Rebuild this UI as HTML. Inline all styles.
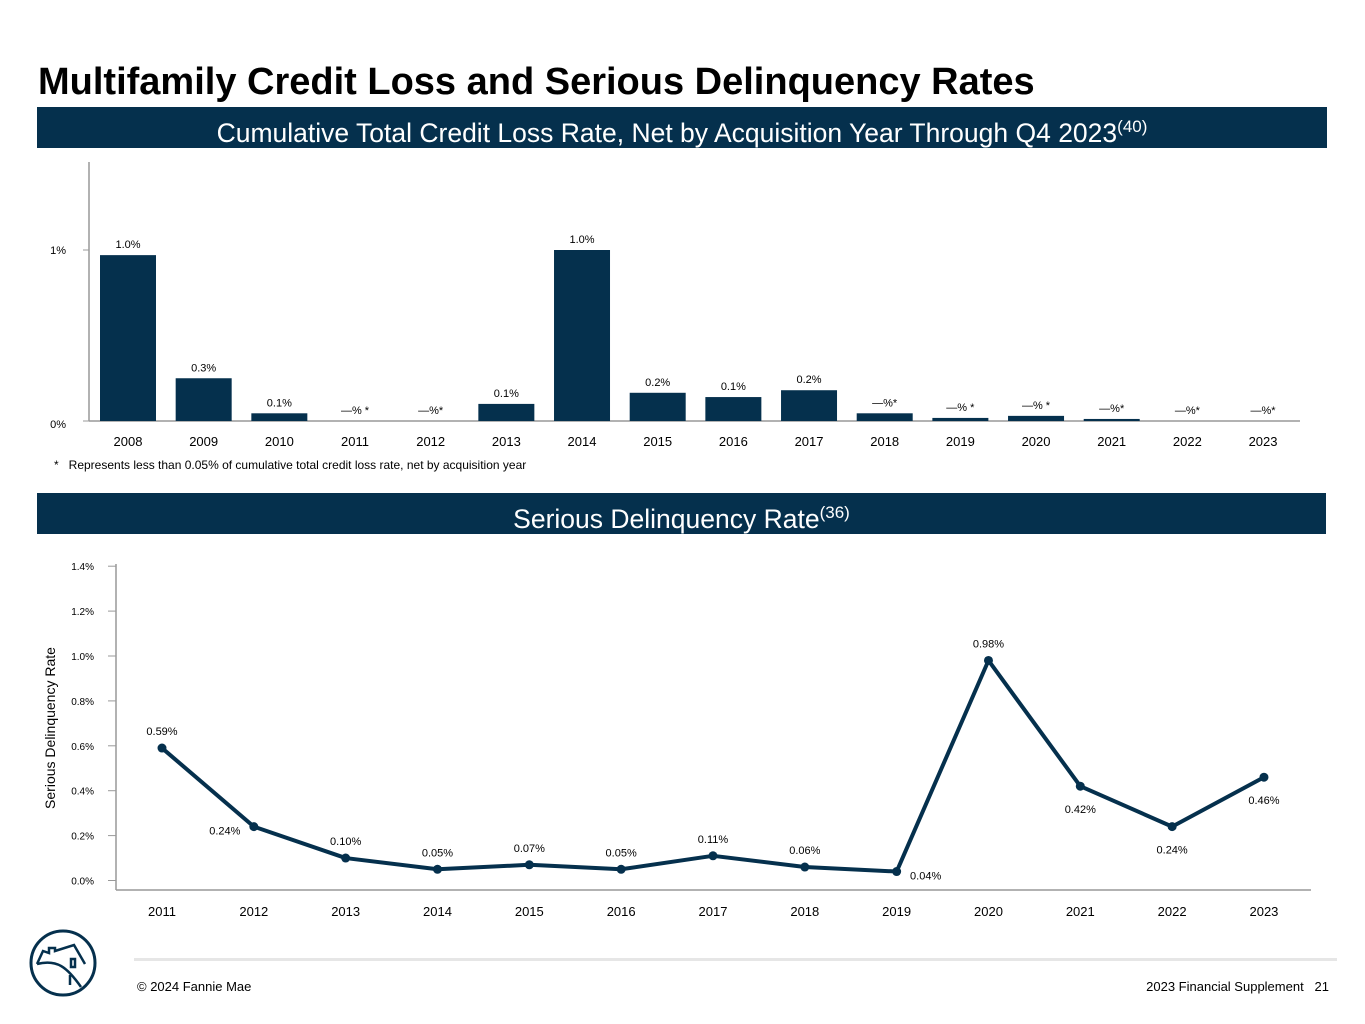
<!DOCTYPE html>
<html><head><meta charset="utf-8"><style>
body{margin:0;background:#fff;font-family:"Liberation Sans",Arial,sans-serif;}
#page{position:relative;width:1365px;height:1024px;overflow:hidden;}
.band{position:absolute;background:#05304d;color:#fff;text-align:center;font-size:26.5px;}
</style></head><body>
<div id="page">
<div style="position:absolute;left:38px;top:61px;font-size:38px;font-weight:bold;color:#000;">Multifamily Credit Loss and Serious Delinquency Rates</div>
<div class="band" style="left:37px;top:107px;width:1290px;height:41px;line-height:40px;">Cumulative Total Credit Loss Rate, Net by Acquisition Year Through Q4 2023<sup style="font-size:17px;">(40)</sup></div>
<div class="band" style="left:37px;top:493px;width:1289px;height:41px;line-height:40px;">Serious Delinquency Rate<sup style="font-size:17px;">(36)</sup></div>
<svg id="bar" width="1365" height="480" style="position:absolute;left:0;top:0;"></svg>
<svg id="line" width="1365" height="930" style="position:absolute;left:0;top:0;"></svg>
<div style="position:absolute;left:54px;top:458px;font-size:12px;color:#000;">*&nbsp;&nbsp; Represents less than 0.05% of cumulative total credit loss rate, net by acquisition year</div>
<div style="position:absolute;left:134px;top:958px;width:1203px;height:3px;background:#e6e6e6;"></div>
<svg width="72" height="72" style="position:absolute;left:27px;top:927px;" viewBox="0 0 72 72">
<circle cx="36" cy="36" r="32" fill="none" stroke="#05304d" stroke-width="3"/>
<path d="M10 37 L16 24 L22 26 L22 21 L28 21 L28 24 L47 18 L58 37 M10 37 C30 32 40 40 54 60 M44 32 L48 32 L48 40 L44 40 Z M43 48 L43 58" fill="none" stroke="#05304d" stroke-width="2.5"/>
</svg>
<div style="position:absolute;left:137px;top:979px;font-size:13px;color:#000;">© 2024 Fannie Mae</div>
<div style="position:absolute;right:36px;top:979px;font-size:13px;color:#000;">2023 Financial Supplement&nbsp;&nbsp; 21</div>
</div>
<script>
const barYears=['2008','2009','2010','2011','2012','2013','2014','2015','2016','2017','2018','2019','2020','2021','2022','2023'];
const barValues=[0.97,0.25,0.045,0,0,0.1,1.0,0.165,0.14,0.18,0.045,0.018,0.03,0.012,0,0];
const barLabels=['1.0%','0.3%','0.1%','—% *','—%*','0.1%','1.0%','0.2%','0.1%','0.2%','—%*','—% *','—% *','—%*','—%*','—%*'];
const barTicks=[0,1];
const barTickLabels=['0%','1%'];
const lineYears=['2011','2012','2013','2014','2015','2016','2017','2018','2019','2020','2021','2022','2023'];
const lineValues=[0.59,0.24,0.10,0.05,0.07,0.05,0.11,0.06,0.04,0.98,0.42,0.24,0.46];
const lineLabels=['0.59%','0.24%','0.10%','0.05%','0.07%','0.05%','0.11%','0.06%','0.04%','0.98%','0.42%','0.24%','0.46%'];
const lineLabelPos=['above','left','above','above','above','above','above','above','below','above','below','below','below'];
const lineTicks=[0,0.2,0.4,0.6,0.8,1.0,1.2,1.4];
const lineTickLabels=['0.0%','0.2%','0.4%','0.6%','0.8%','1.0%','1.2%','1.4%'];
const NS='http://www.w3.org/2000/svg';
function mk(p,t,a,txt){const e=document.createElementNS(NS,t);for(const k in a)e.setAttribute(k,a[k]);if(txt!==undefined)e.textContent=txt;p.appendChild(e);return e;}
const bs=document.getElementById('bar');
const bx=i=>128+i*75.67, by=v=>421-v*171;
let e=mk(bs,'line',{x1:89,y1:162,x2:89,y2:421,stroke:'#999','stroke-width':1.5});

e=mk(bs,'line',{x1:89,y1:421,x2:1300,y2:421,stroke:'#999','stroke-width':1.5});

barTicks.forEach((t,i)=>{
 e=mk(bs,'line',{x1:83,y1:by(t),x2:89,y2:by(t),stroke:'#999'});
 
 e=mk(bs,'text',{x:66,y:by(t)+4+(t==0?3:0),'font-size':11,'text-anchor':'end',fill:'#000'},barTickLabels[i]);
 
});
barYears.forEach((y,i)=>{
 const v=barValues[i];
 if(v>0){e=mk(bs,'rect',{x:bx(i)-28,y:by(v),width:56,height:421-by(v),fill:'#05304d'});
 }
 e=mk(bs,'text',{x:bx(i),y:by(v)-7,'font-size':11,'text-anchor':'middle',fill:'#000'},barLabels[i]);
 
 e=mk(bs,'text',{x:bx(i),y:446,'font-size':13,'text-anchor':'middle',fill:'#000'},y);
 
});
const ls=document.getElementById('line');
const lx=i=>162+i*91.83, ly=v=>880.5-v*224.5;
e=mk(ls,'line',{x1:116,y1:564,x2:116,y2:890,stroke:'#999','stroke-width':1.5});

e=mk(ls,'line',{x1:116,y1:890,x2:1311,y2:890,stroke:'#999','stroke-width':1.5});

lineTicks.forEach((t,i)=>{
 e=mk(ls,'line',{x1:108,y1:ly(t),x2:116,y2:ly(t),stroke:'#999'});
 
 e=mk(ls,'text',{x:94,y:ly(t)+4,'font-size':10,'text-anchor':'end',fill:'#000'},lineTickLabels[i]);
 
});
e=mk(ls,'text',{x:0,y:0,'font-size':14,'text-anchor':'middle',fill:'#000',transform:'translate(55,728) rotate(-90)'},'Serious Delinquency Rate');

e=mk(ls,'polyline',{points:lineValues.map((v,i)=>lx(i)+','+ly(v)).join(' '),fill:'none',stroke:'#05304d','stroke-width':4,'stroke-linejoin':'round'});

lineYears.forEach((y,i)=>{
 const v=lineValues[i];
 e=mk(ls,'circle',{cx:lx(i),cy:ly(v),r:4.5,fill:'#05304d'});
 
 let tx=lx(i),ty=ly(v)-13;
 if(lineLabelPos[i]=='below')ty=ly(v)+27;
 if(lineLabelPos[i]=='left'){tx=lx(i)-29;ty=ly(v)+8;}
 if(i==8){tx=lx(i)+29;ty=ly(v)+8;}
 e=mk(ls,'text',{x:tx,y:ty,'font-size':11,'text-anchor':'middle',fill:'#000'},lineLabels[i]);
 
 e=mk(ls,'text',{x:lx(i),y:916,'font-size':13,'text-anchor':'middle',fill:'#000'},y);
 
});
</script>
</body></html>
